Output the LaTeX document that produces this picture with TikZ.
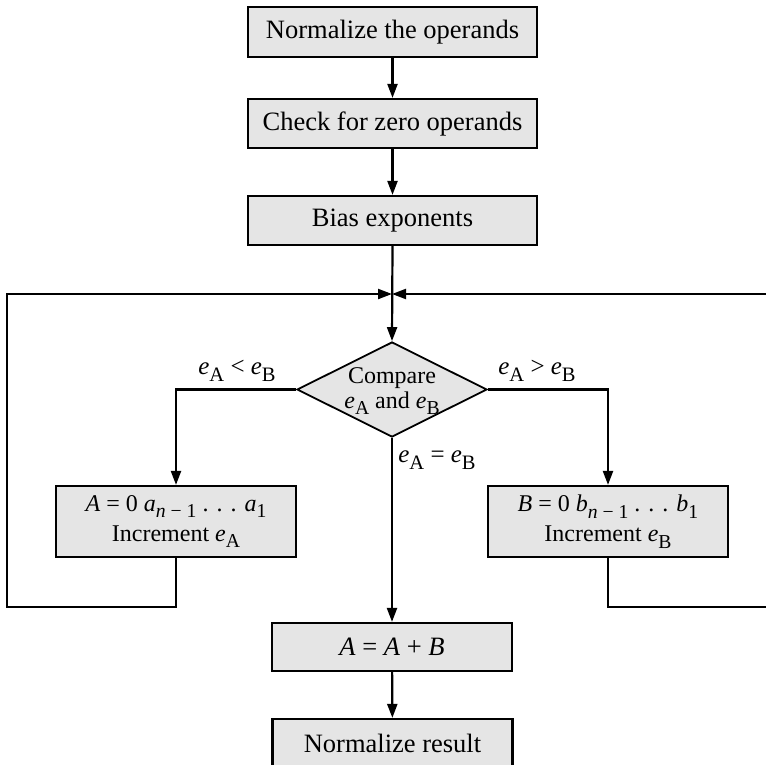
\documentclass[tikz,border=0pt]{standalone}
\usepackage{fontspec}
\setmainfont{Liberation Serif}
\usetikzlibrary{arrows.meta,shapes.geometric}

% italic variable with an upright, lowered subscript
\newcommand{\lowsub}[1]{\raisebox{-0.6ex}{\scalebox{0.82}{#1}}}
\newcommand{\var}[2]{\textit{#1}\lowsub{#2}}

\tikzset{
  flow/.style={draw=black, line width=2.2pt, fill=black!10, inner sep=0pt,
    font=\fontsize{26.5}{30}\selectfont, align=center},
  twoline/.style={flow, font=\fontsize{24}{30}\selectfont},
  decision/.style={diamond, draw=black, line width=1.8pt, fill=black!10,
    inner sep=0pt, minimum width=190pt, minimum height=95pt},
  conn/.style={line width=2.2pt, -{Triangle[length=14pt,width=10pt]}},
  cond/.style={inner sep=0pt, font=\fontsize{25}{30}\selectfont}
}

\begin{document}
\begin{tikzpicture}[x=1pt,y=-1pt]
  \useasboundingbox (0,0) rectangle (765,765);

  \node[flow, minimum width=289pt, minimum height=50pt] (norm) at (392.5,32) {Normalize the operands};
  \node[flow, minimum width=289pt, minimum height=49pt] (zero) at (392.5,123.5) {Check for zero operands};
  \node[flow, minimum width=289pt, minimum height=49pt] (bias) at (392.5,220.5) {Bias exponents};

  \coordinate (join) at (392,294);

  \node[decision] (cmp) at (392,389.5) {};
  \node[inner sep=0pt, align=center, font=\fontsize{24}{25}\selectfont] (cmptext) at (392,391)
    {Compare\\\var{e}{A} and \var{e}{B}};

  \node[twoline, minimum width=240pt, minimum height=71pt] (shiftA) at (176,521.5)
    {\textit{A} = 0 \var{a}{\textit{n} − 1} . . . \var{a}{1}\\Increment \var{e}{A}};
  \node[twoline, minimum width=240pt, minimum height=71pt] (shiftB) at (608,521.5)
    {\textit{B} = 0 \var{b}{\textit{n} − 1} . . . \var{b}{1}\\Increment \var{e}{B}};

  \node[flow, minimum width=240pt, minimum height=48pt] (add) at (392,647) {\textit{A} = \textit{A} + \textit{B}};
  \node[flow, minimum width=240pt, minimum height=49pt] (res) at (392.5,743.5) {Normalize result};

  \coordinate (loopL) at (7,607);
  \coordinate (loopR) at (770,607);

  % main path
  \draw[conn] (norm) -- (zero);
  \draw[conn] (zero) -- (bias);
  \draw[conn] (bias.south) -- (cmp.north);
  \draw[conn] (cmp.west) -| (shiftA.north);
  \draw[conn] (cmp.east) -| (shiftB.north);
  \draw[conn] (cmp.south) -- (add.north);
  \draw[conn] (add) -- (res);

  % feedback loops
  \draw[conn] (shiftA.south) |- (loopL) |- (join);
  \draw[conn] (shiftB.south) |- (loopR) |- (join);

  % branch conditions
  \node[cond] (lt) at (237,371) {\var{e}{A} < \var{e}{B}};
  \node[cond] (gt) at (537,371) {\var{e}{A} > \var{e}{B}};
  \node[cond] (eq) at (437,460) {\var{e}{A} = \var{e}{B}};
\end{tikzpicture}
\end{document}
